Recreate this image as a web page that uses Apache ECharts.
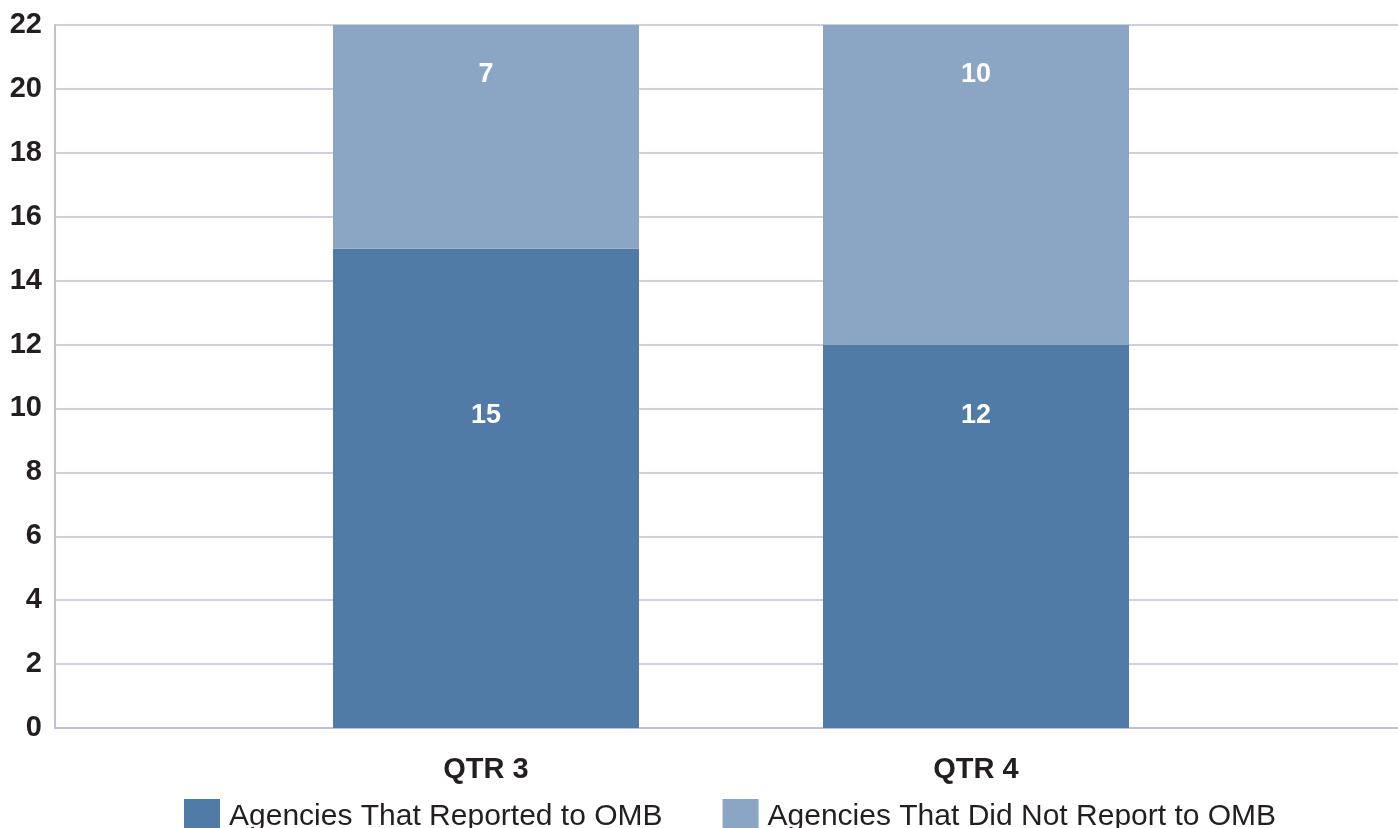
<!DOCTYPE html>
<html>
<head>
<meta charset="utf-8">
<script src="https://cdn.jsdelivr.net/npm/echarts@6/dist/echarts.min.js"></script>
<style>
  html, body { margin: 0; padding: 0; background: #fff; }
  #main { width: 1398px; height: 828px; }
</style>
</head>
<body>
<div id="main"></div>
<script>
// data
var quarters = ['QTR 3', 'QTR 4'];
var reported = [15, 12];
var notReported = [7, 10];
var seriesNames = ['Agencies That Reported to OMB', 'Agencies That Did Not Report to OMB'];

var colors = ['#4F7BA6', '#8BA5C4'];
var textColor = '#231F20';
var font = 'Arial, "Liberation Sans", sans-serif';

// label positions inside each bar (px from bar top-left), like the original
var reportedLabelY = [167, 71];
var notReportedLabelY = [50, 50];

function withLabels(values, ys) {
    return values.map(function (v, i) {
        return {value: v, label: {position: [153, ys[i]]}};
    });
}

var chart = echarts.init(document.getElementById('main'));

var barLabel = {
    show: true,
    color: '#fff',
    fontFamily: font,
    fontWeight: 'bold',
    fontSize: 27,
    align: 'center',
    verticalAlign: 'middle'
};

chart.setOption({
    animation: false,
    textStyle: {fontFamily: font},
    grid: [
        {left: 55, right: 0, top: 25, bottom: 100},   //网格线
        {left: 241, right: 177, top: 25, bottom: 100} //柱子
    ],
    legend: {
        top: 799,
        left: 184,
        padding: 0,
        itemWidth: 36,
        itemHeight: 36,
        itemGap: 60,
        icon: 'rect',
        textStyle: {color: textColor, fontSize: 30, fontFamily: font, padding: [6, 0, 0, 4]},
        data: seriesNames
    },
    xAxis: [
        {
            gridIndex: 0,
            type: 'category',
            data: quarters,
            axisLine: {lineStyle: {color: '#BFC1D2', width: 2}},
            axisTick: {show: false},
            axisLabel: {show: false}
        },
        {
            gridIndex: 1,
            type: 'category',
            data: quarters,
            axisLine: {show: false},
            axisTick: {show: false},
            axisLabel: {color: textColor, fontWeight: 'bold', fontSize: 29, fontFamily: font, margin: 27}
        }
    ],
    yAxis: [
        {
            gridIndex: 0,
            type: 'value',
            min: 0,
            max: 22,
            interval: 2,
            axisLine: {show: true, lineStyle: {color: '#BFC1D2', width: 2}},
            axisTick: {show: false},
            axisLabel: {color: textColor, fontWeight: 'bold', fontSize: 29, fontFamily: font, margin: 13},
            splitLine: {lineStyle: {color: '#BFC1D2', width: 1.5}}
        },
        {
            gridIndex: 1,
            type: 'value',
            min: 0,
            max: 22,
            interval: 2,
            show: false,
            splitLine: {show: false}
        }
    ],
    series: [
        {
            name: seriesNames[0],
            type: 'bar',
            stack: 'total',
            xAxisIndex: 1,
            yAxisIndex: 1,
            barWidth: 306,
            itemStyle: {color: colors[0]},
            label: barLabel,
            data: withLabels(reported, reportedLabelY)
        },
        {
            name: seriesNames[1],
            type: 'bar',
            stack: 'total',
            xAxisIndex: 1,
            yAxisIndex: 1,
            barWidth: 306,
            itemStyle: {color: colors[1]},
            label: barLabel,
            data: withLabels(notReported, notReportedLabelY)
        }
    ]
});
</script>
</body>
</html>
